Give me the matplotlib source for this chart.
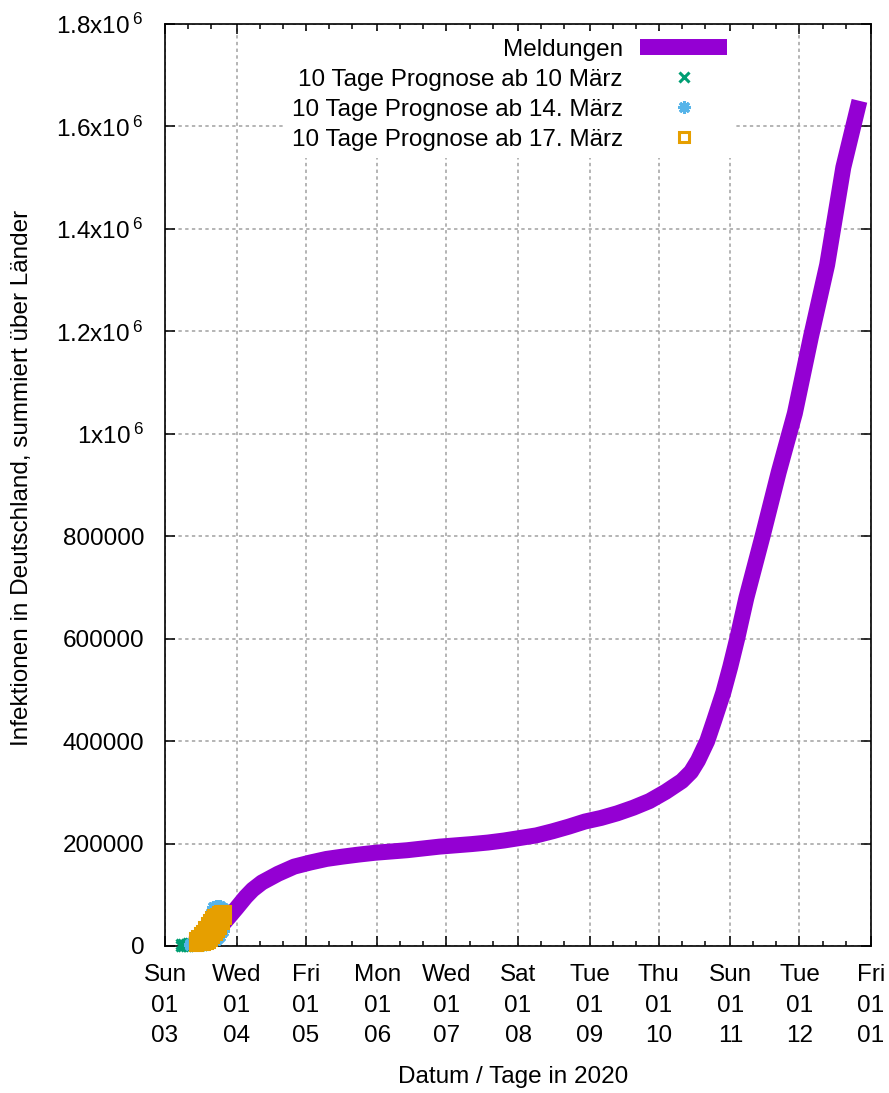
import matplotlib
matplotlib.use("Agg")
import matplotlib.pyplot as plt
import matplotlib.dates as mdates
import numpy as np
import pandas as pd

# cumulative reported infections
meld_dates = [
    "2020-03-12", "2020-03-15", "2020-03-18", "2020-03-22", "2020-03-25", "2020-03-29",
    "2020-04-01", "2020-04-05", "2020-04-08", "2020-04-12", "2020-04-19", "2020-04-26",
    "2020-05-03", "2020-05-10", "2020-05-17", "2020-05-24", "2020-05-31", "2020-06-07",
    "2020-06-14", "2020-06-21", "2020-06-28", "2020-07-05", "2020-07-12", "2020-07-19",
    "2020-07-26", "2020-08-02", "2020-08-09", "2020-08-16", "2020-08-23", "2020-08-30",
    "2020-09-06", "2020-09-13", "2020-09-20", "2020-09-27", "2020-10-04", "2020-10-11",
    "2020-10-15", "2020-10-18", "2020-10-22", "2020-10-25", "2020-10-29", "2020-11-01",
    "2020-11-04", "2020-11-08", "2020-11-15", "2020-11-22",
    "2020-11-29", "2020-12-06", "2020-12-13", "2020-12-20", "2020-12-27",
]
meld_values = [
    2700, 5800, 12000, 24000, 37000, 58000,
    74000, 96000, 110000, 124000, 141000, 155000,
    163000, 170000, 174500, 178500, 182000, 184500,
    187000, 190500, 194000, 196500, 199000, 202000,
    206000, 211000, 216000, 224000, 233000, 243000,
    250000, 259000, 270000, 283000, 301000, 322000,
    340000, 362000, 400000, 440000, 495000, 545000,
    600000, 680000, 800000, 925000,
    1040000, 1190000, 1330000, 1520000, 1650000,
]

# prognoses: for each day the values summed over the Laender
p10_dates = ["2020-03-08", "2020-03-09", "2020-03-10", "2020-03-11", "2020-03-12",
             "2020-03-13", "2020-03-14", "2020-03-15", "2020-03-16", "2020-03-17"]
p10_values = [[0, 4000], [0, 4000], [500, 4500], [500, 5000], [1000, 5000],
              [1000, 6000], [1000, 7000], [1500, 8000], [1500, 9000], [2000, 10000]]

p14_dates = ["2020-03-12", "2020-03-13", "2020-03-14", "2020-03-15", "2020-03-16",
             "2020-03-17", "2020-03-18", "2020-03-19", "2020-03-20", "2020-03-21",
             "2020-03-22", "2020-03-23", "2020-03-24", "2020-03-25", "2020-03-26"]
p14_values = [
    [1000, 3000], [1000, 6000], [2000, 10000], [2000, 8000, 14000],
    [3000, 10000, 18000], [3000, 12000, 22000], [4000, 14000, 26000],
    [5000, 18000, 32000], [6000, 20000, 35000, 50000],
    [8000, 22000, 38000, 52000, 65000], [10000, 25000, 40000, 55000, 68000, 76000],
    [12000, 28000, 44000, 60000, 70000, 78000], [15000, 30000, 46000, 62000, 72000, 78000],
    [20000, 35000, 50000, 65000, 78000], [30000, 45000, 60000, 75000],
]

p17_dates = ["2020-03-14", "2020-03-15", "2020-03-16", "2020-03-17", "2020-03-18",
             "2020-03-19", "2020-03-20", "2020-03-21", "2020-03-22", "2020-03-23",
             "2020-03-24", "2020-03-25", "2020-03-26", "2020-03-27"]
p17_values = [
    [2000, 8000, 15000], [2000, 10000, 20000], [3000, 14000, 25000],
    [3000, 16000, 30000], [4000, 20000, 38000], [5000, 18000, 32000, 45000],
    [8000, 22000, 37000, 50000], [12000, 26000, 42000, 56000],
    [18000, 32000, 47000, 60000], [24000, 38000, 52000, 63000],
    [30000, 42000, 55000, 66000], [36000, 48000, 60000, 68000],
    [45000, 56000, 68000], [55000, 68000],
]

y_ticks = [0, 200000, 400000, 600000, 800000, 1000000, 1200000, 1400000, 1600000, 1800000]


def flatten(dates, values):
    xs = []
    ys = []
    for d, vals in zip(dates, values):
        for v in vals:
            xs.append(np.datetime64(d))
            ys.append(v)
    return np.array(xs), np.array(ys)


def y_label(v, pos):
    if v >= 1e6:
        return "%gx10$^{\\;6}$" % (v / 1e6)
    return "%d" % v


plt.rcParams["font.family"] = ["Liberation Sans", "DejaVu Sans"]
plt.rcParams["font.size"] = 17.5
plt.rcParams["mathtext.fontset"] = "custom"
plt.rcParams["mathtext.rm"] = "Liberation Sans"
plt.rcParams["mathtext.it"] = "Liberation Sans:italic"
plt.rcParams["mathtext.bf"] = "Liberation Sans:bold"

fig = plt.figure(figsize=(8.89, 10.93), dpi=100)
ax = fig.add_axes([165 / 889, 1 - 946 / 1093, 706 / 889, 922 / 1093])

ax.plot(pd.to_datetime(meld_dates).to_numpy(), meld_values, color="#9400d3", lw=11.5,
        solid_joinstyle="round", solid_capstyle="butt", label="Meldungen", zorder=3)

x, y = flatten(p10_dates, p10_values)
ax.plot(x, y, ls="none", marker="x", ms=7, mew=2.2, color="#009e73",
        label="10 Tage Prognose ab 10 März", clip_on=False, zorder=4)
x, y = flatten(p14_dates, p14_values)
ax.plot(x, y, ls="none", marker=(8, 2, 0), ms=9, mew=2.2, color="#56b4e9",
        label="10 Tage Prognose ab 14. März", clip_on=False, zorder=5)
x, y = flatten(p17_dates, p17_values)
ax.plot(x, y, ls="none", marker="s", ms=7, mew=2.2, color="#e69f00", mfc="none",
        label="10 Tage Prognose ab 17. März", clip_on=False, zorder=6)

ax.set_xlim(np.datetime64("2020-03-01"), np.datetime64("2021-01-01"))
ax.set_ylim(0, 1.8e6)
ax.set_yticks(y_ticks)
ax.yaxis.set_major_formatter(plt.FuncFormatter(y_label))
ax.xaxis.set_major_locator(mdates.MonthLocator())
ax.xaxis.set_minor_locator(mdates.DayLocator(bymonthday=[11, 21]))
ax.xaxis.set_major_formatter(mdates.DateFormatter("%a\n%d\n%m"))

ax.grid(True, which="major", color="#a0a0a0", linestyle=(0, (2.2, 2.2)), linewidth=1.1)
ax.set_axisbelow(True)
ax.tick_params(which="major", direction="in", length=7, width=1.1, top=True, right=True)
ax.tick_params(which="minor", direction="in", length=3.5, width=1.1, top=True, right=True)
ax.tick_params(axis="y", pad=15)
ax.tick_params(axis="x", pad=13)
for s in ax.spines.values():
    s.set_linewidth(1.2)

fig.text(22 / 889, 1 - 478 / 1093, "Infektionen in Deutschland, summiert über Länder",
         rotation=90, ha="center", va="center")
fig.text(513 / 889, 1 - 1077 / 1093, "Datum / Tage in 2020", ha="center", va="center")

ax.legend(loc="upper right", bbox_to_anchor=(0.807, 0.992), borderaxespad=0,
          markerfirst=False, frameon=True, framealpha=1, edgecolor="none",
          facecolor="white", fancybox=False, handlelength=3.6, handletextpad=0.7,
          labelspacing=0.33, borderpad=0.3, numpoints=1)

fig.canvas.draw()
for lab in ax.get_xticklabels():
    lab.set_linespacing(1.5)

fig.savefig("out.png", dpi=100)
